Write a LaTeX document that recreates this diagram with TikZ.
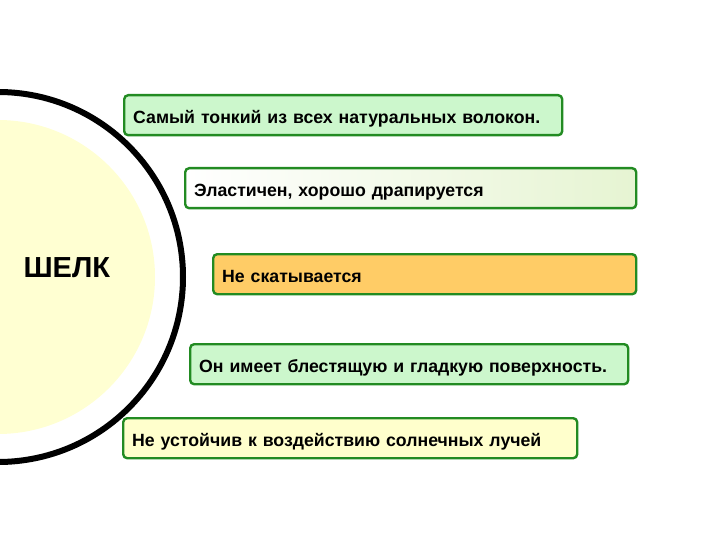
\documentclass[tikz,border=0pt]{standalone}
\usepackage{fontspec}
\setmainfont{Liberation Sans}
\usetikzlibrary{shadings}
\definecolor{bordergreen}{HTML}{228B22}
\definecolor{mint}{HTML}{CCF7CC}
\definecolor{palegreen}{HTML}{E6F4D2}
\definecolor{orangefill}{HTML}{FFCC66}
\definecolor{paleyellow}{HTML}{FFFFCC}
\definecolor{circleyellow}{HTML}{FFFFD2}
\tikzset{
  fact/.style={draw=bordergreen, line width=2.4pt, rounded corners=4pt,
    anchor=north west, minimum height=40pt, inner xsep=9pt, inner ysep=0pt,
    text height=17pt, text depth=0pt,
    align=left, font=\fontsize{17.7}{20}\selectfont\bfseries},
  arcline/.style={line width=6pt, draw=black}
}
\begin{document}
\begin{tikzpicture}[x=1pt,y=-1pt]
\useasboundingbox (0,0) rectangle (720,540);
\clip (0,0) rectangle (720,540);
\fill[white] (0,0) rectangle (720,540);
\coordinate (c) at (-2,277);
\fill[circleyellow] (c) circle[radius=157];
\draw[arcline] (c) circle[radius=185];
\node[font=\fontsize{29}{33}\selectfont\bfseries, anchor=west] (silk) at (20,268) {ШЕЛК};
\node[fact, fill=mint, minimum width=438pt, text width=420pt] (f1) at (123,94) {Самый тонкий из всех натуральных волокон.};
\node[fact, left color=white, right color=palegreen, minimum width=451pt, text width=433pt] (f2) at (184,167) {Эластичен, хорошо драпируется};
\node[fact, fill=orangefill, minimum width=423pt, text width=405pt] (f3) at (212,253) {Не скатывается};
\node[fact, fill=mint, minimum width=438pt, text width=420pt] (f4) at (189,343) {Он имеет блестящую и гладкую поверхность.};
\node[fact, fill=paleyellow, minimum width=454pt, text width=436pt] (f5) at (122,417) {Не устойчив к воздействию солнечных лучей};
\end{tikzpicture}
\end{document}
